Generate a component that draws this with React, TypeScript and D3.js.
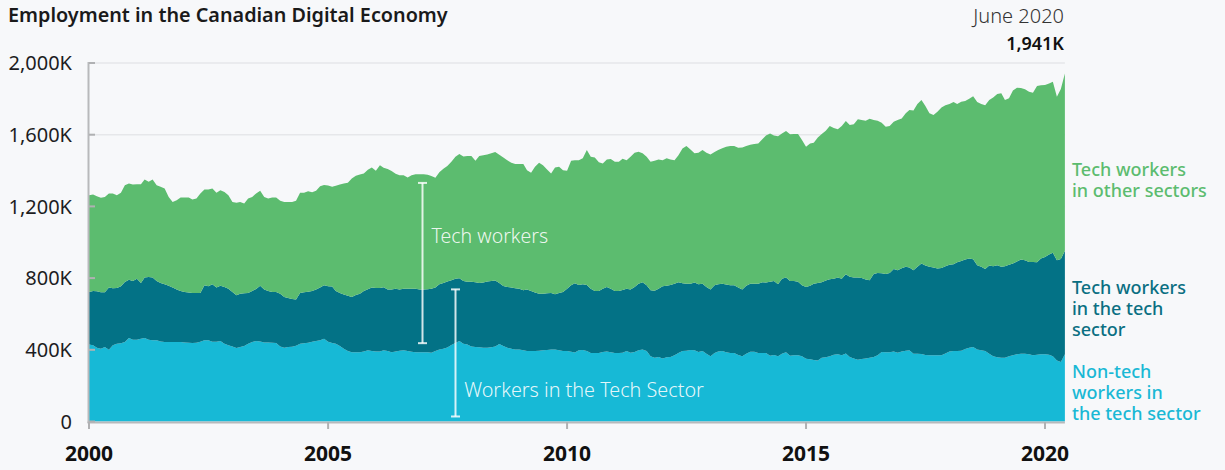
import React from "react";
import * as d3 from "d3";

// Monthly data, Jan 2000 – Jun 2020 (thousands of workers)
const startYear = 2000;

// Total employment in the digital economy (all tech workers + non-tech workers in tech sector)
const digitalEconomyTotal = [
  1262, 1266, 1257, 1248, 1253, 1272, 1272, 1262, 1276, 1318, 1328, 1322,
  1324, 1324, 1350, 1337, 1350, 1318, 1309, 1300, 1253, 1225, 1235, 1249,
  1249, 1249, 1238, 1244, 1272, 1294, 1294, 1300, 1276, 1290, 1281, 1262,
  1225, 1220, 1225, 1216, 1244, 1253, 1272, 1287, 1253, 1244, 1249, 1249,
  1231, 1225, 1225, 1225, 1231, 1276, 1276, 1285, 1279, 1287, 1313, 1320,
  1316, 1309, 1315, 1322, 1328, 1332, 1356, 1371, 1378, 1384, 1404, 1417,
  1399, 1430, 1415, 1408, 1397, 1382, 1374, 1374, 1361, 1374, 1380, 1380,
  1380, 1376, 1369, 1360, 1391, 1410, 1425, 1449, 1477, 1492, 1479, 1481,
  1481, 1455, 1481, 1486, 1490, 1496, 1503, 1488, 1473, 1458, 1443, 1436,
  1436, 1436, 1402, 1388, 1421, 1443, 1430, 1406, 1384, 1417, 1421, 1402,
  1399, 1455, 1458, 1458, 1468, 1514, 1477, 1473, 1447, 1440, 1462, 1464,
  1449, 1449, 1466, 1458, 1477, 1499, 1505, 1496, 1477, 1449, 1455, 1462,
  1458, 1468, 1462, 1458, 1486, 1523, 1537, 1518, 1496, 1499, 1514, 1499,
  1490, 1503, 1514, 1525, 1533, 1537, 1537, 1527, 1529, 1537, 1544, 1548,
  1551, 1574, 1596, 1607, 1596, 1592, 1607, 1620, 1602, 1604, 1604, 1570,
  1533, 1551, 1555, 1585, 1604, 1622, 1648, 1637, 1630, 1648, 1676, 1654,
  1658, 1686, 1682, 1678, 1689, 1682, 1678, 1667, 1645, 1648, 1672, 1682,
  1691, 1719, 1738, 1735, 1771, 1793, 1760, 1719, 1710, 1728, 1752, 1764,
  1771, 1782, 1771, 1784, 1788, 1801, 1815, 1782, 1771, 1764, 1793, 1808,
  1827, 1831, 1793, 1803, 1846, 1862, 1860, 1853, 1840, 1834, 1872, 1876,
  1877, 1885, 1896, 1812, 1855, 1941,
];

// Workers in the tech sector (tech + non-tech)
const techSectorTotal = [
  723, 728, 726, 721, 721, 747, 743, 745, 754, 778, 791, 784,
  797, 773, 803, 806, 803, 784, 773, 765, 758, 747, 736, 728,
  723, 719, 717, 717, 717, 760, 754, 765, 747, 758, 750, 741,
  723, 704, 713, 715, 717, 728, 739, 758, 736, 728, 723, 723,
  713, 695, 689, 683, 680, 717, 721, 724, 728, 736, 747, 760,
  754, 753, 728, 717, 708, 702, 695, 706, 713, 728, 738, 747,
  745, 745, 749, 736, 736, 741, 736, 740, 741, 741, 740, 736,
  736, 738, 741, 747, 766, 773, 781, 788, 797, 799, 784, 779,
  779, 777, 773, 775, 781, 784, 786, 773, 756, 751, 747, 743,
  740, 732, 736, 728, 719, 713, 713, 715, 717, 710, 717, 723,
  741, 760, 771, 762, 766, 762, 740, 728, 728, 741, 751, 740,
  728, 728, 734, 741, 736, 751, 769, 777, 760, 732, 730, 740,
  754, 758, 762, 769, 777, 771, 769, 769, 775, 766, 769, 751,
  736, 760, 766, 769, 764, 760, 760, 747, 736, 758, 768, 769,
  769, 777, 775, 779, 784, 766, 797, 803, 784, 784, 779, 760,
  751, 758, 769, 773, 777, 786, 794, 797, 803, 796, 822, 807,
  803, 803, 801, 792, 788, 823, 829, 827, 823, 829, 851, 844,
  855, 863, 859, 844, 863, 881, 870, 863, 859, 853, 857, 866,
  874, 877, 889, 896, 904, 909, 905, 872, 863, 851, 870, 866,
  872, 863, 866, 874, 881, 892, 904, 900, 890, 890, 889, 909,
  918, 931, 941, 900, 907, 952,
];

// Non-tech workers in the tech sector
const nonTechInTechSector = [
  430, 426, 412, 406, 415, 400, 425, 434, 436, 443, 466, 456,
  456, 462, 466, 456, 453, 453, 447, 443, 443, 443, 443, 443,
  441, 440, 438, 440, 445, 453, 453, 445, 445, 449, 434, 426,
  419, 410, 415, 421, 434, 443, 449, 447, 441, 441, 440, 438,
  419, 412, 415, 417, 423, 434, 436, 440, 445, 449, 453, 462,
  445, 438, 434, 421, 406, 393, 387, 387, 387, 391, 397, 393,
  391, 391, 397, 393, 387, 391, 395, 397, 393, 389, 387, 387,
  387, 386, 384, 393, 402, 406, 413, 427, 438, 449, 434, 429,
  419, 416, 414, 412, 412, 414, 419, 432, 421, 412, 406, 401,
  401, 397, 393, 393, 393, 395, 397, 399, 401, 401, 397, 393,
  393, 389, 385, 397, 399, 393, 382, 382, 382, 388, 391, 386,
  382, 382, 384, 393, 384, 388, 397, 401, 393, 364, 356, 360,
  352, 358, 360, 369, 382, 393, 395, 399, 397, 388, 393, 378,
  364, 382, 391, 393, 386, 382, 382, 371, 364, 378, 389, 389,
  382, 382, 382, 367, 371, 364, 378, 386, 367, 369, 369, 364,
  350, 347, 343, 341, 356, 358, 364, 373, 375, 369, 380, 360,
  351, 345, 349, 352, 356, 360, 369, 388, 386, 386, 390, 384,
  390, 395, 397, 378, 378, 377, 371, 369, 369, 369, 369, 380,
  390, 393, 393, 395, 405, 412, 416, 401, 397, 393, 378, 364,
  358, 356, 356, 364, 369, 375, 378, 378, 375, 369, 373, 375,
  375, 373, 364, 341, 332, 375,
];

const seriesKeys = ["nonTech", "techInTech", "techOther"];
const seriesColors = ["#17b9d6", "#037286", "#5cbc6f"];
const labelColors = ["#1ab8d5", "#0a6f82", "#5cbc6f"];
const seriesLabels = [
  ["Non-tech", "workers in", "the tech sector"],
  ["Tech workers", "in the tech", "sector"],
  ["Tech workers", "in other sectors"],
];
const yTicks = [0, 400, 800, 1200, 1600, 2000];
const xTickYears = [2000, 2005, 2010, 2015, 2020];
const monthNames = ["January","February","March","April","May","June","July","August","September","October","November","December"];

const FONT = "'Noto Sans', 'Open Sans', sans-serif";

export default function App() {
  const rows = digitalEconomyTotal.map((total, i) => ({
    date: new Date(startYear, i, 1),
    nonTech: nonTechInTechSector[i],
    techInTech: techSectorTotal[i] - nonTechInTechSector[i],
    techOther: total - techSectorTotal[i],
  }));
  const last = rows[rows.length - 1];

  const x = d3
    .scaleTime()
    .domain([new Date(2000, 0, 1), new Date(2020, 0, 1)])
    .range([89, 1045]);
  const y = d3.scaleLinear().domain([0, 2000]).range([421.5, 63]);
  const xEnd = x(last.date);

  const stacked = d3.stack<any>().keys(seriesKeys)(rows);
  const area = d3
    .area<any>()
    .x((d) => x(d.data.date))
    .y0((d) => y(d[0]))
    .y1((d) => y(d[1]))
    .curve(d3.curveLinear);

  const fmt = (v: number) => (v === 0 ? "0" : d3.format(",")(v) + "K");

  // label positions (first-line baselines)
  const labelTops = [378, 294, 176];
  const lineH = 21;

  // annotation brackets (values in K, x in dates)
  const techBracket = { date: new Date(2006, 11, 20), y0: 437, y1: 1331 };
  const sectorBracket = { date: new Date(2007, 7, 27), y0: 28, y1: 737 };
  const bracketColor = "rgba(255,255,255,0.82)";

  const bracket = (b: { date: Date; y0: number; y1: number }) => {
    const bx = Math.round(x(b.date)) + 0.5;
    return (
      <g stroke={bracketColor} strokeWidth={2}>
        <line x1={bx} x2={bx} y1={y(b.y1)} y2={y(b.y0)} />
        <line x1={bx - 4.5} x2={bx + 4.5} y1={y(b.y1)} y2={y(b.y1)} />
        <line x1={bx - 4.5} x2={bx + 4.5} y1={y(b.y0)} y2={y(b.y0)} />
      </g>
    );
  };

  return (
    <svg
      width={1225}
      height={470}
      style={{ position: "absolute", left: 0, top: 0, display: "block" }}
      fontFamily={FONT}
    >
      <rect x={0} y={0} width={1225} height={470} fill="#f7f8fa" />

      {/* gridlines */}
      {yTicks.slice(1).map((t) => (
        <line key={t} x1={89} x2={xEnd} y1={y(t)} y2={y(t)} stroke="#e6e7ea" strokeWidth={1.5} />
      ))}

      {/* areas */}
      {stacked.map((s, i) => (
        <path key={s.key} d={area(s) as string} fill={seriesColors[i]} />
      ))}

      {/* axes */}
      <line x1={88.5} x2={88.5} y1={y(2000) - 1} y2={423} stroke="#b8b9bb" strokeWidth={2} />
      <line x1={87.5} x2={xEnd} y1={422.5} y2={422.5} stroke="#b8b9bb" strokeWidth={2} />
      {yTicks.map((t) => (
        <g key={t}>
          <line x1={89} x2={95} y1={y(t)} y2={y(t)} stroke="#b0b1b3" strokeWidth={2} />
          <text x={72} y={y(t)} dy="0.36em" textAnchor="end" fontSize={20} fill="#1d1d1f">
            {fmt(t)}
          </text>
        </g>
      ))}
      {xTickYears.map((yr) => {
        const xx = x(new Date(yr, 0, 1));
        return (
          <g key={yr}>
            <line x1={xx} x2={xx} y1={422} y2={429} stroke="#b0b1b3" strokeWidth={2} />
            <text x={xx} y={461} textAnchor="middle" fontSize={21} fontWeight={700} fill="#111">
              {yr}
            </text>
          </g>
        );
      })}

      {/* annotations */}
      {bracket(techBracket)}
      {bracket(sectorBracket)}
      <text x={x(techBracket.date) + 9.5} y={243} fontSize={19.5} fontWeight={300} fill="rgba(255,255,255,0.9)">
        Tech workers
      </text>
      <text x={x(sectorBracket.date) + 9.5} y={397} fontSize={19.8} fontWeight={300} fill="rgba(255,255,255,0.9)">
        Workers in the Tech Sector
      </text>

      {/* right labels */}
      {seriesLabels.map((lines, i) => (
        <text key={i} x={1072} y={labelTops[i]} fontSize={18} fontWeight={500} fill={labelColors[i]}>
          {lines.map((l, j) => (
            <tspan key={j} x={1072} dy={j === 0 ? 0 : lineH}>
              {l}
            </tspan>
          ))}
        </text>
      ))}

      {/* header */}
      <text x={8} y={22} fontSize={19.8} fontWeight={600} fill="#1a1a1a">
        Employment in the Canadian Digital Economy
      </text>
      <text x={1064} y={23} textAnchor="end" fontSize={20} fontWeight={300} fill="#333">
        {monthNames[last.date.getMonth()]} {last.date.getFullYear()}
      </text>
      <text x={1064} y={50} textAnchor="end" fontSize={18} fontWeight={600} fill="#111">
        {d3.format(",")(digitalEconomyTotal[digitalEconomyTotal.length - 1])}K
      </text>
    </svg>
  );
}
